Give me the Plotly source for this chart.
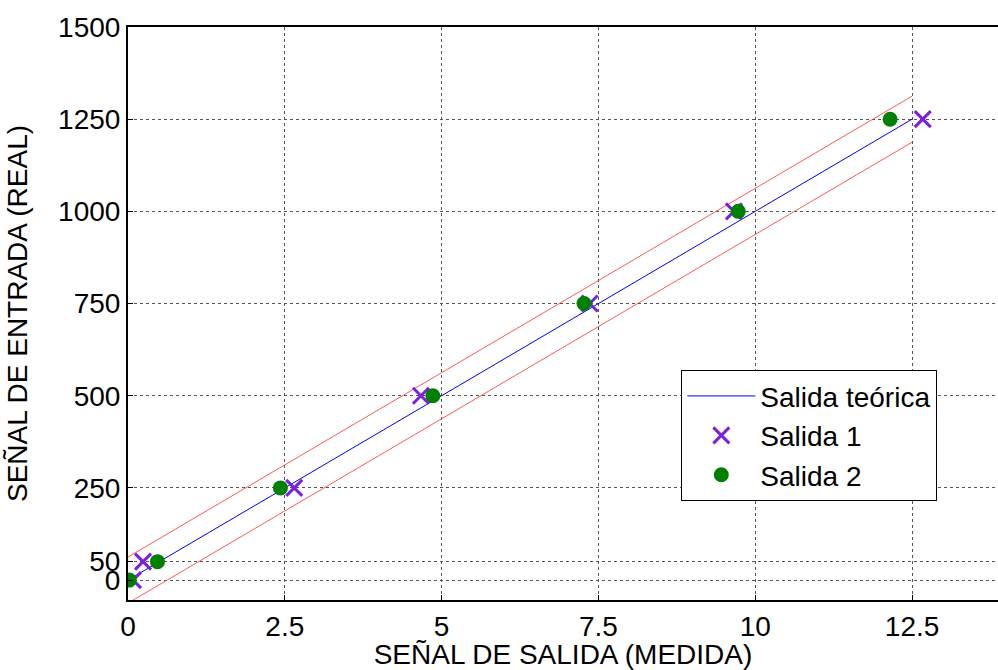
import plotly.graph_objects as go

# Input (real) values and measured outputs for the two runs
entrada = [0, 50, 250, 500, 750, 1000, 1250]
salida_1 = [0.08, 0.24, 2.65, 4.67, 7.36, 9.66, 12.67]
salida_2 = [0.02, 0.47, 2.43, 4.86, 7.27, 9.73, 12.15]

# Theoretical response and its tolerance band
teorica_x = [0, 12.5]
teorica_y = [0, 1250]
tolerancia = 62.5

x_ticks = [0, 2.5, 5, 7.5, 10, 12.5]
x_tick_text = ["0", "2.5", "5", "7.5", "10", "12.5"]
y_ticks = [0, 50, 250, 500, 750, 1000, 1250, 1500]

fig = go.Figure()

fig.add_trace(go.Scatter(
    x=teorica_x, y=[v + tolerancia for v in teorica_y], mode="lines",
    line=dict(color="rgba(255,60,60,0.85)", width=1), showlegend=False,
    hoverinfo="skip"))
fig.add_trace(go.Scatter(
    x=teorica_x, y=[v - tolerancia for v in teorica_y], mode="lines",
    line=dict(color="rgba(255,60,60,0.85)", width=1), showlegend=False,
    hoverinfo="skip"))
fig.add_trace(go.Scatter(
    x=teorica_x, y=teorica_y, mode="lines", name="Salida teórica",
    line=dict(color="#0000ff", width=1)))
fig.add_trace(go.Scatter(
    x=salida_1, y=entrada, mode="markers", name="Salida 1",
    marker=dict(symbol="x-thin", size=16,
                line=dict(color="#7b1fe0", width=3), color="#7b1fe0")))
fig.add_trace(go.Scatter(
    x=salida_2, y=entrada, mode="markers", name="Salida 2",
    marker=dict(symbol="circle", size=15, color="#008000",
                line=dict(width=0))))

font_family = "Liberation Sans, Arial, sans-serif"
fs = 28

fig.update_layout(
    width=998, height=670,
    margin=dict(l=128, r=0, t=27, b=70),
    plot_bgcolor="white", paper_bgcolor="white",
    font=dict(family=font_family, size=fs, color="black"),
    legend=dict(
        x=0.636, y=0.401, xanchor="left", yanchor="top",
        bgcolor="white", bordercolor="black", borderwidth=1,
        font=dict(size=fs), tracegroupgap=0, itemwidth=68),
    xaxis=dict(
        range=[0, 13.87], tickvals=x_ticks, ticktext=x_tick_text,
        showgrid=True, gridcolor="#555555", griddash="dot", gridwidth=1,
        showline=True, linecolor="black", linewidth=2, mirror=True,
        ticks="inside", ticklen=5, tickcolor="black",
        tickfont=dict(size=fs), zeroline=False, automargin=False,
        title=dict(text="SEÑAL DE SALIDA (MEDIDA)", font=dict(size=fs),
                   standoff=0)),
    yaxis=dict(
        range=[-54, 1500], tickvals=y_ticks,
        showgrid=True, gridcolor="#555555", griddash="dot", gridwidth=1,
        showline=True, linecolor="black", linewidth=2, mirror=True,
        ticks="inside", ticklen=5, tickcolor="black",
        tickfont=dict(size=fs), zeroline=False, automargin=False,
        title=dict(text="SEÑAL DE ENTRADA (REAL)", font=dict(size=fs),
                   standoff=22)),
)

fig.write_html("out.html")
